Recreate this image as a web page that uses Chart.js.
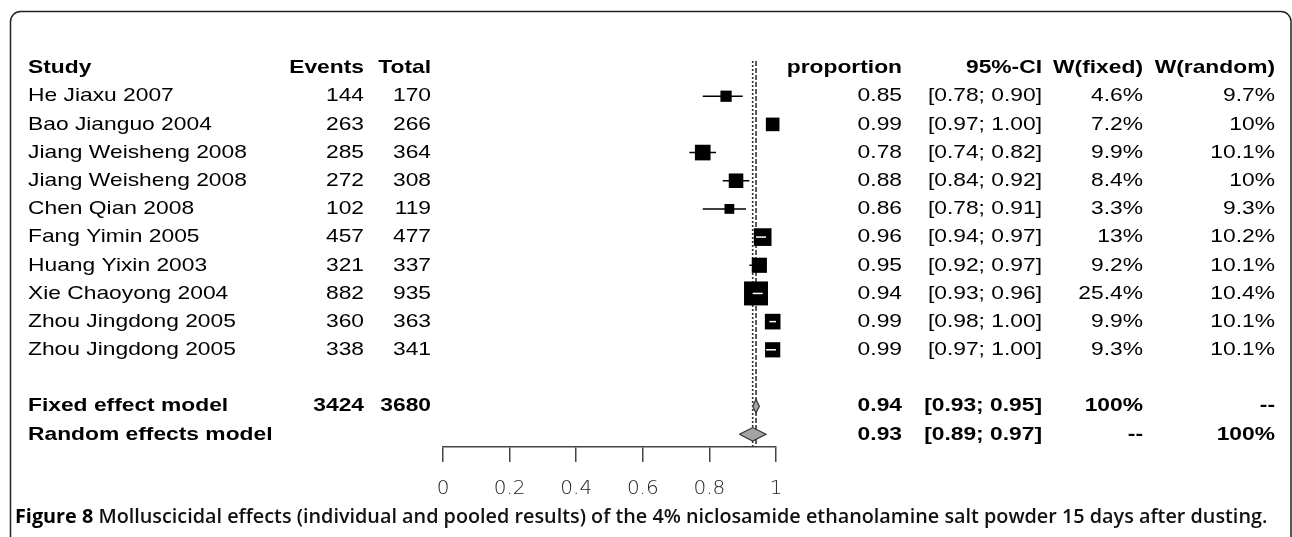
<!DOCTYPE html>
<html>
<head>
<meta charset="utf-8">
<script src="https://cdn.jsdelivr.net/npm/chart.js@4.4.1/dist/chart.umd.min.js"></script>
<style>
  html, body { margin: 0; padding: 0; background: #fff; }
  canvas { display: block; }
</style>
</head>
<body>
<canvas id="canvas" width="1292" height="537"></canvas>
<script>
// study rows
const studies = ["He Jiaxu 2007", "Bao Jianguo 2004", "Jiang Weisheng 2008", "Jiang Weisheng 2008",
  "Chen Qian 2008", "Fang Yimin 2005", "Huang Yixin 2003", "Xie Chaoyong 2004",
  "Zhou Jingdong 2005", "Zhou Jingdong 2005"];
const events = [144, 263, 285, 272, 102, 457, 321, 882, 360, 338];
const totals = [170, 266, 364, 308, 119, 477, 337, 935, 363, 341];
const proportion = [0.85, 0.99, 0.78, 0.88, 0.86, 0.96, 0.95, 0.94, 0.99, 0.99];
const ciLower = [0.78, 0.97, 0.74, 0.84, 0.78, 0.94, 0.92, 0.93, 0.98, 0.97];
const ciUpper = [0.90, 1.00, 0.82, 0.92, 0.91, 0.97, 0.97, 0.96, 1.00, 1.00];
const wFixed = [4.6, 7.2, 9.9, 8.4, 3.3, 13, 9.2, 25.4, 9.9, 9.3];
const wRandom = [9.7, 10, 10.1, 10, 9.3, 10.2, 10.1, 10.4, 10.1, 10.1];

// pooled rows
const pooledLabels = ["Fixed effect model", "Random effects model"];
const pooledEvents = [3424, null];
const pooledTotals = [3680, null];
const pooledEst = [0.94, 0.93];
const pooledLower = [0.93, 0.89];
const pooledUpper = [0.95, 0.97];
const pooledWFixed = ["100%", "--"];
const pooledWRandom = ["--", "100%"];

const xTicks = [0, 0.2, 0.4, 0.6, 0.8, 1];
const headers = ["Study", "Events", "Total", "proportion", "95%-CI", "W(fixed)", "W(random)"];
const caption = ["Figure 8", " Molluscicidal effects (individual and pooled results) of the 4% niclosamide ethanolamine salt powder 15 days after dusting."];

// row index on the y scale: 0 = header, 1..10 studies, 12..13 pooled
const studyRows = studies.map((s, i) => i + 1);
const pooledRows = [12, 13];

const col = { study: 28, events: 364, total: 431, prop: 902, ci: 1042, wf: 1143, wr: 1275 };

function fmtCI(lo, hi) { return "[" + lo.toFixed(2) + "; " + hi.toFixed(2) + "]"; }
function boxSide(i) { return 4.4 * Math.sqrt(wFixed[i]) + 1.8; }

const boxData = studies.map((s, i) => ({ x: proportion[i], y: studyRows[i] }));
const ciData = [];
studies.forEach((s, i) => {
  ciData.push({ x: ciLower[i], y: studyRows[i] }, { x: ciUpper[i], y: studyRows[i] }, { x: ciUpper[i], y: null });
});
function diamond(j) {
  const r = pooledRows[j];
  return [
    { x: pooledLower[j], y: r }, { x: pooledEst[j], y: r - 0.24 },
    { x: pooledUpper[j], y: r }, { x: pooledEst[j], y: r + 0.24 },
    { x: pooledLower[j], y: r }
  ];
}
const yMin = -0.25, yMax = 13.45;

function put(c, str, x, y, align, bold) {
  c.save();
  c.font = (bold ? "bold " : "") + "19px 'Liberation Sans', Arial, sans-serif";
  c.fillStyle = "#000";
  c.textBaseline = "middle";
  c.textAlign = align;
  c.translate(x, y);
  c.scale(1.2, 1);
  c.fillText(str, 0, 0);
  c.restore();
}

const tablePlugin = {
  id: "forestTable",
  afterDatasetsDraw(chart) {
    const c = chart.ctx, xs = chart.scales.x, ys = chart.scales.y;
    // CI line shown in white where it sits inside its box
    c.save();
    c.strokeStyle = "#fff";
    c.lineWidth = 1.5;
    studies.forEach((s, i) => {
      const half = boxSide(i) / 2;
      const px = xs.getPixelForValue(proportion[i]);
      const lo = xs.getPixelForValue(ciLower[i]);
      const hi = xs.getPixelForValue(ciUpper[i]);
      if (lo > px - half + 0.5 && hi < px + half - 0.5) {
        const py = ys.getPixelForValue(studyRows[i]);
        c.beginPath();
        c.moveTo(lo, py);
        c.lineTo(hi, py);
        c.stroke();
      }
    });
    c.restore();
  },
  afterDraw(chart) {
    const c = chart.ctx, ys = chart.scales.y;
    const hy = ys.getPixelForValue(0);
    put(c, headers[0], col.study, hy, "left", true);
    put(c, headers[1], col.events, hy, "right", true);
    put(c, headers[2], col.total, hy, "right", true);
    put(c, headers[3], col.prop, hy, "right", true);
    put(c, headers[4], col.ci, hy, "right", true);
    put(c, headers[5], col.wf, hy, "right", true);
    put(c, headers[6], col.wr, hy, "right", true);

    studies.forEach((s, i) => {
      const y = ys.getPixelForValue(studyRows[i]);
      put(c, s, col.study, y, "left", false);
      put(c, String(events[i]), col.events, y, "right", false);
      put(c, String(totals[i]), col.total, y, "right", false);
      put(c, proportion[i].toFixed(2), col.prop, y, "right", false);
      put(c, fmtCI(ciLower[i], ciUpper[i]), col.ci, y, "right", false);
      put(c, wFixed[i] + "%", col.wf, y, "right", false);
      put(c, wRandom[i] + "%", col.wr, y, "right", false);
    });

    pooledLabels.forEach((s, j) => {
      const y = ys.getPixelForValue(pooledRows[j]);
      put(c, s, col.study, y, "left", true);
      if (pooledEvents[j] !== null) put(c, String(pooledEvents[j]), col.events, y, "right", true);
      if (pooledTotals[j] !== null) put(c, String(pooledTotals[j]), col.total, y, "right", true);
      put(c, pooledEst[j].toFixed(2), col.prop, y, "right", true);
      put(c, fmtCI(pooledLower[j], pooledUpper[j]), col.ci, y, "right", true);
      put(c, pooledWFixed[j], col.wf, y, "right", true);
      put(c, pooledWRandom[j], col.wr, y, "right", true);
    });

    // caption
    c.save();
    c.textBaseline = "middle";
    c.textAlign = "left";
    c.font = "700 16px 'Open Sans', sans-serif";
    const w1 = c.measureText(caption[0]).width;
    c.font = "600 16px 'Open Sans', sans-serif";
    const w2 = c.measureText(caption[1]).width;
    const size = 16 * 1253 / (w1 + w2);
    c.fillStyle = "#000";
    c.font = "700 " + size + "px 'Open Sans', sans-serif";
    c.fillText(caption[0], 15, 517);
    const a = c.measureText(caption[0]).width;
    c.font = "600 " + size + "px 'Open Sans', sans-serif";
    c.fillStyle = "#111";
    c.fillText(caption[1], 15 + a, 517);
    c.restore();

    // frame
    c.save();
    c.strokeStyle = "#222";
    c.lineWidth = 1.5;
    c.beginPath();
    c.moveTo(10.5, 545);
    c.lineTo(10.5, 22);
    c.arcTo(10.5, 11.5, 21, 11.5, 10);
    c.lineTo(1280, 11.5);
    c.arcTo(1291, 11.5, 1291, 22, 10);
    c.lineTo(1291, 545);
    c.stroke();
    c.restore();
  }
};

const ctx = document.getElementById("canvas").getContext("2d");
const myChart = new Chart(ctx, {
  type: "scatter",
  data: {
    datasets: [
      {
        label: "studies",
        data: boxData,
        clip: false,
        pointStyle: "rect",
        pointRadius: (p) => boxSide(p.dataIndex) / Math.SQRT2,
        pointHoverRadius: (p) => boxSide(p.dataIndex) / Math.SQRT2,
        backgroundColor: "#000",
        borderWidth: 0,
      },
      {
        type: "line",
        label: "fixed",
        data: diamond(0),
        clip: false,
        fill: "shape",
        backgroundColor: "#a3a3a3",
        borderColor: "#333",
        borderWidth: 1.2,
        pointRadius: 0,
        tension: 0,
      },
      {
        type: "line",
        label: "random",
        data: diamond(1),
        clip: false,
        fill: "shape",
        backgroundColor: "#a3a3a3",
        borderColor: "#333",
        borderWidth: 1.2,
        pointRadius: 0,
        tension: 0,
      },
      {
        type: "line",
        label: "ci",
        data: ciData,
        clip: false,
        borderColor: "#000",
        borderWidth: 1.5,
        pointRadius: 0,
        spanGaps: false,
        tension: 0,
      },
      {
        type: "line",
        label: "fixed line",
        data: [{ x: pooledEst[0], y: yMin }, { x: pooledEst[0], y: yMax }],
        borderColor: "#333",
        borderWidth: 1.6,
        borderDash: [5, 2],
        pointRadius: 0,
      },
      {
        type: "line",
        label: "random line",
        data: [{ x: pooledEst[1], y: yMin }, { x: pooledEst[1], y: yMax }],
        borderColor: "#333",
        borderWidth: 1.6,
        borderDash: [2, 2],
        pointRadius: 0,
      },
    ],
  },
  options: {
    responsive: false,
    animation: false,
    layout: { padding: { left: 443, right: 516, top: 61, bottom: 0 } },
    plugins: { legend: { display: false }, tooltip: { enabled: false } },
    scales: {
      x: {
        type: "linear",
        position: "bottom",
        min: 0,
        max: 1,
        afterBuildTicks: (s) => { s.ticks = xTicks.map((v) => ({ value: v })); },
        afterFit: (s) => { s.height = 90; },
        grid: { drawOnChartArea: false, drawTicks: true, tickLength: 15, color: "#444", lineWidth: 1.5 },
        border: { display: true, color: "#444", width: 1.5 },
        ticks: {
          padding: 15,
          color: "#222",
          maxRotation: 0,
          autoSkip: false,
          font: { family: "DejaVu Sans", size: 20, weight: 200 },
          callback: (v) => String(v),
        },
      },
      y: {
        type: "linear",
        display: false,
        reverse: true,
        min: yMin,
        max: yMax,
      },
    },
  },
  plugins: [tablePlugin],
});
</script>
</body>
</html>
